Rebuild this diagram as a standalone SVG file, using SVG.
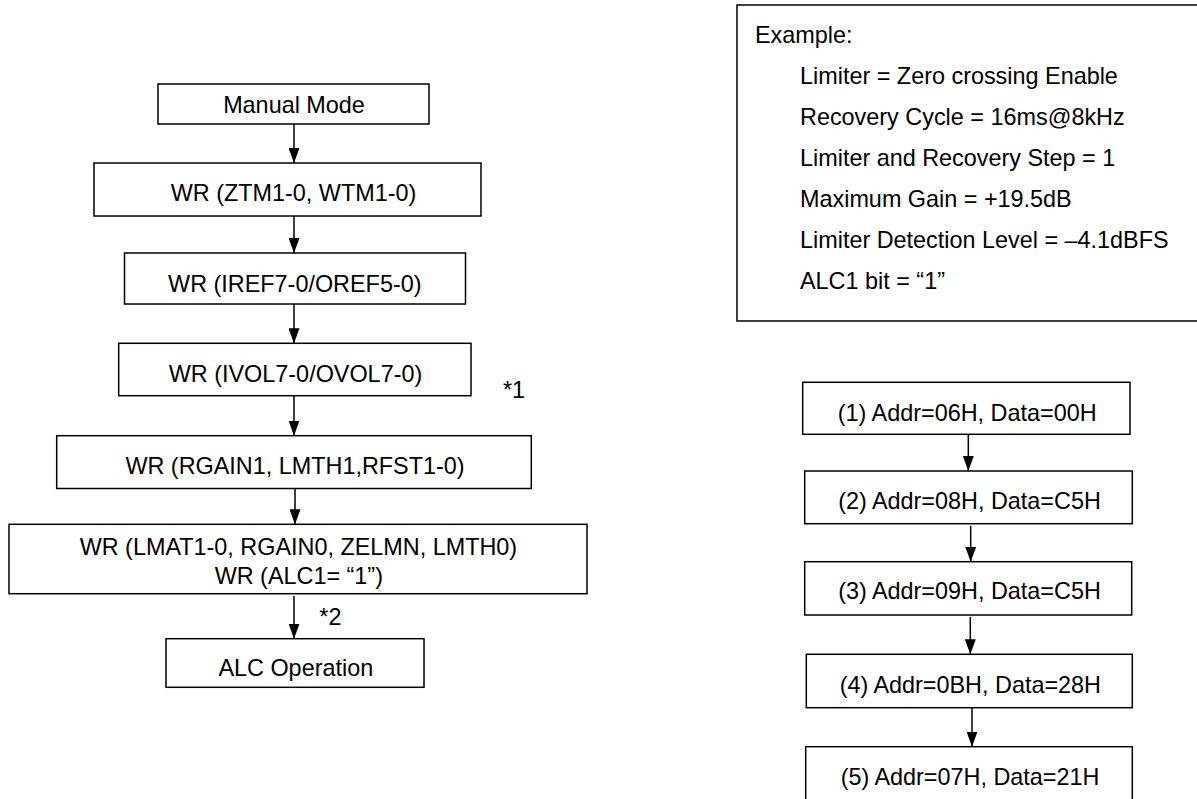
<svg xmlns="http://www.w3.org/2000/svg" width="1197" height="799" viewBox="0 0 1197 799">
<defs>
<style>
.box{fill:#fff;stroke:#000;stroke-width:1.5}
.t{font-family:"Liberation Sans",Arial,sans-serif;font-size:23.4px;fill:#000}
.c{text-anchor:middle}
.conn line{stroke:#000;stroke-width:1.5;marker-end:url(#ah)}
</style>
<marker id="ah" markerUnits="userSpaceOnUse" viewBox="0 0 15 11" markerWidth="15" markerHeight="11" refX="15" refY="5.5" orient="auto">
<path d="M0,0 L15,5.5 L0,11 z" fill="#000"/>
</marker>
</defs>
<rect width="1197" height="799" fill="#fff"/>

<g id="example">
<rect class="box" x="737" y="5" width="470" height="316"/>
<text class="t" x="755" y="43.3">Example:</text>
<text class="t" x="800" y="84">Limiter = Zero crossing Enable</text>
<text class="t" x="800" y="125">Recovery Cycle = 16ms@8kHz</text>
<text class="t" x="800" y="166">Limiter and Recovery Step = 1</text>
<text class="t" x="800" y="206.7">Maximum Gain = +19.5dB</text>
<text class="t" x="800" y="248">Limiter Detection Level = –4.1dBFS</text>
<text class="t" x="800" y="288.7">ALC1 bit = “1”</text>
</g>

<g id="manual">
<rect class="box" x="158" y="84" width="271" height="40"/>
<text class="t c" x="294" y="113.3">Manual Mode</text>
</g>
<g id="wtm">
<rect class="box" x="94" y="163" width="387" height="53"/>
<text class="t c" x="293.5" y="201">WR (ZTM1-0, WTM1-0)</text>
</g>
<g id="iref">
<rect class="box" x="124.5" y="253" width="341" height="51"/>
<text class="t c" x="294.8" y="292.3">WR (IREF7-0/OREF5-0)</text>
</g>
<g id="ivol">
<rect class="box" x="118.7" y="343.3" width="352.3" height="52.4"/>
<text class="t c" x="295.5" y="381.7">WR (IVOL7-0/OVOL7-0)</text>
</g>
<text id="note1" class="t" x="503" y="398.3">*1</text>
<g id="rgain">
<rect class="box" x="56.7" y="435.7" width="474.6" height="52.8"/>
<text class="t c" x="295" y="474">WR (RGAIN1, LMTH1,RFST1-0)</text>
</g>
<g id="lmat">
<rect class="box" x="9" y="524.3" width="578" height="69.4"/>
<text class="t c" x="298.4" y="555">WR (LMAT1-0, RGAIN0, ZELMN, LMTH0)</text>
<text class="t c" x="298.8" y="584">WR (ALC1= “1”)</text>
</g>
<text id="note2" class="t" x="319.3" y="625">*2</text>
<g id="alcop">
<rect class="box" x="166" y="638.7" width="258" height="48.6"/>
<text class="t c" x="295.8" y="676">ALC Operation</text>
</g>

<g id="s1">
<rect class="box" x="802.7" y="382.3" width="327.3" height="52"/>
<text class="t c" x="967.2" y="420.7">(1) Addr=06H, Data=00H</text>
</g>
<g id="s2">
<rect class="box" x="804.7" y="471" width="327.6" height="52.7"/>
<text class="t c" x="969.5" y="509.3">(2) Addr=08H, Data=C5H</text>
</g>
<g id="s3">
<rect class="box" x="804.7" y="561.7" width="327" height="53.3"/>
<text class="t c" x="969.5" y="599.3">(3) Addr=09H, Data=C5H</text>
</g>
<g id="s4">
<rect class="box" x="806.3" y="654.3" width="326" height="53.4"/>
<text class="t c" x="970.3" y="693.3">(4) Addr=0BH, Data=28H</text>
</g>
<g id="s5">
<rect class="box" x="805.7" y="746.7" width="326.6" height="60"/>
<text class="t c" x="970" y="785">(5) Addr=07H, Data=21H</text>
</g>

<g id="connectors" class="conn">
<line x1="294" y1="124" x2="294" y2="163"/>
<line x1="294" y1="216" x2="294" y2="253"/>
<line x1="294" y1="304" x2="294" y2="343.3"/>
<line x1="294" y1="395.7" x2="294" y2="435.7"/>
<line x1="295" y1="488.5" x2="295" y2="524.3"/>
<line x1="294" y1="596" x2="294" y2="638.7"/>
<line x1="968.3" y1="434.3" x2="968.3" y2="471"/>
<line x1="970.7" y1="525.7" x2="970.7" y2="561.7"/>
<line x1="970.3" y1="617" x2="970.3" y2="654.3"/>
<line x1="972" y1="707.7" x2="972" y2="746.7"/>
</g>
</svg>
